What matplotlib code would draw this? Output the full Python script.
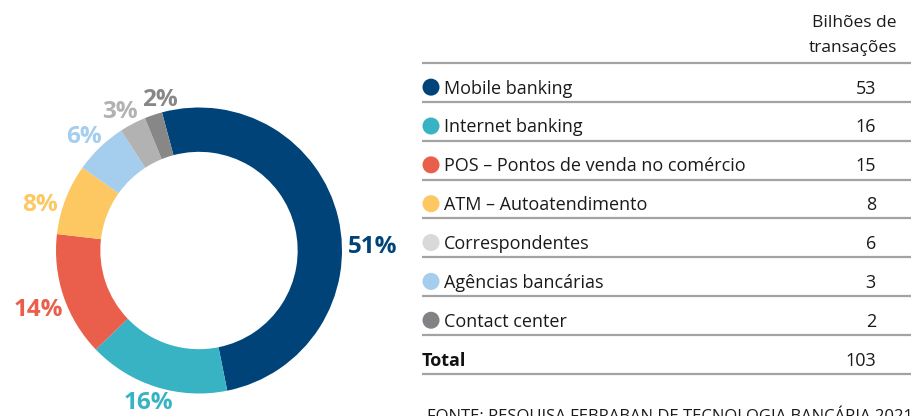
import matplotlib
matplotlib.use("Agg")
import matplotlib.pyplot as plt
import numpy as np

plt.rcParams['font.family'] = ['Open Sans', 'DejaVu Sans']

# --- dados ---
pie_pcts = [51, 16, 14, 8, 6, 3, 2]
pie_colors = ['#004379', '#38B3C4', '#EA5F4B', '#FDC762', '#A4CDEE', '#B2B2B2', '#878787']

categorias = ['Mobile banking', 'Internet banking', 'POS – Pontos de venda no comércio',
              'ATM – Autoatendimento', 'Correspondentes', 'Agências bancárias', 'Contact center']
transacoes = [53, 16, 15, 8, 6, 3, 2]
dot_colors = ['#004379', '#38B3C4', '#EA5F4B', '#FDC762', '#D9D9D9', '#A4CDEE', '#808285']
total = 103

# posicao dos rotulos (angulo em graus, raio relativo), ajustada a mao
label_angles = [1.3, -99.6, -156.4, 162.2, 130.5, 113.8, 98]
label_r = [1.04, 1.085, 1.04, 1.04, 1.045, 1.06, 1.06]

W, H = 912, 416
fig = plt.figure(figsize=(W / 100, H / 100), dpi=100)
fig.set_facecolor('white')

# --- tabela (coordenadas em pixels) ---
tab = fig.add_axes([0, 0, 1, 1])
tab.set_xlim(0, W)
tab.set_ylim(H, 0)
tab.axis('off')

x_left, x_dot, x_txt, x_num = 422, 431, 444, 876
line_top, step = 63, 38.85
line_col = '#A3A3A3'
fs = 13

tab.text(897, 23, 'Bilhões de', ha='right', va='center', fontsize=12.5, color='#1a1a1a')
tab.text(897, 48, 'transações', ha='right', va='center', fontsize=12.5, color='#1a1a1a')

n = len(categorias)
line_ys = [line_top + step * i for i in range(n + 2)]
tab.hlines(line_ys, x_left, W, colors=line_col, lw=1.6)

for i, (cat, val, c) in enumerate(zip(categorias, transacoes, dot_colors)):
    yc = line_top + step * (i + 0.66)
    tab.scatter([x_dot], [yc - 1.5], s=150, color=c, edgecolors='none', zorder=3)
    tab.text(x_txt, yc, cat, ha='left', va='center', fontsize=fs, color='#1a1a1a')
    tab.text(x_num, yc, str(val), ha='right', va='center', fontsize=fs, color='#1a1a1a')

yt = line_top + step * (n + 0.66)
tab.text(x_left, yt, 'Total', ha='left', va='center', fontsize=fs, fontweight='bold', color='#111111')
tab.text(x_num, yt, str(total), ha='right', va='center', fontsize=fs, color='#1a1a1a')

tab.text(427, 421, 'FONTE: PESQUISA FEBRABAN DE TECNOLOGIA BANCÁRIA 2021', ha='left', va='baseline',
         fontsize=12, color='#1a1a1a')

# --- donut ---
cx, cy, r = 199, 250.5, 143
ax = fig.add_axes([(cx - r) / W, (H - cy - r) / H, 2 * r / W, 2 * r / H])
ax.pie(pie_pcts, colors=pie_colors, startangle=105, counterclock=False,
       wedgeprops=dict(width=0.31, edgecolor='none'))
ax.set_xlim(-1, 1)
ax.set_ylim(-1, 1)
ax.set_aspect('equal')
ax.axis('off')

for p, c, a, lr in zip(pie_pcts, pie_colors, label_angles, label_r):
    t = np.deg2rad(a)
    x, y = lr * np.cos(t), lr * np.sin(t)
    ax.text(x, y, f'{p}%', ha='left' if x > 0 else 'right', va='center',
            fontsize=17.5, fontweight='bold', color=c, clip_on=False)

fig.savefig('out.png', dpi=100, facecolor='white')
